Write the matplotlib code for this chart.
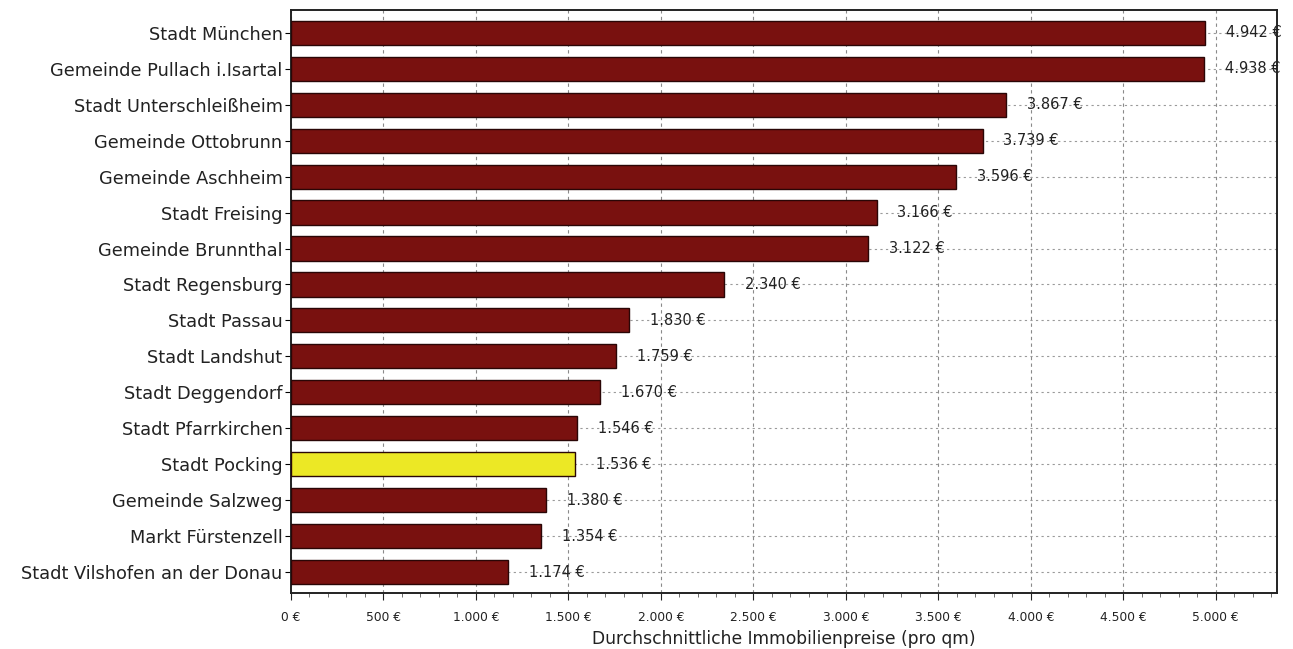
import matplotlib
matplotlib.use("Agg")
import matplotlib.pyplot as plt
from matplotlib.ticker import FuncFormatter, MultipleLocator

plt.rcParams.update({
    "font.family": "DejaVu Sans",
    "figure.facecolor": "white", "axes.facecolor": "white",
})

ORTE = ["Stadt München", "Gemeinde Pullach i.Isartal", "Stadt Unterschleißheim",
        "Gemeinde Ottobrunn", "Gemeinde Aschheim", "Stadt Freising",
        "Gemeinde Brunnthal", "Stadt Regensburg", "Stadt Passau",
        "Stadt Landshut", "Stadt Deggendorf", "Stadt Pfarrkirchen",
        "Stadt Pocking", "Gemeinde Salzweg", "Markt Fürstenzell",
        "Stadt Vilshofen an der Donau"]
PREISE = [4942, 4938, 3867, 3739, 3596, 3166, 3122, 2340, 1830,
          1759, 1670, 1546, 1536, 1380, 1354, 1174]
HERVORGEHOBEN = "Stadt Pocking"

ROT = "#79110f"; GELB = "#ece825"; RAND = "#2a0606"


def euro(v):
    return f"{v:,.0f} €".replace(",", ".")


fig = plt.figure(figsize=(12.93, 6.49), dpi=100)
ax = fig.add_axes([0.225, 0.0863, 0.7625, 0.8987])

y = list(range(len(ORTE)))
farben = [GELB if o == HERVORGEHOBEN else ROT for o in ORTE]
ax.barh(y, PREISE, height=0.67, color=farben, edgecolor=RAND,
        linewidth=1.0, zorder=3)

for yi, p in zip(y, PREISE):
    ax.annotate(euro(p), xy=(p, yi), xytext=(15, 0), textcoords="offset points",
                ha="left", va="center", fontsize=10.5, color="#222222",
                zorder=4)

ax.set_xlim(0, 5330)
ax.set_ylim(len(ORTE) - 0.42, -0.64)
ax.set_yticks(y)
ax.set_yticklabels(ORTE, fontsize=12.8, color="#222222")

ax.xaxis.set_major_locator(MultipleLocator(500))
ax.xaxis.set_minor_locator(MultipleLocator(100))
ax.xaxis.set_major_formatter(FuncFormatter(lambda v, _: euro(v)))
ax.tick_params(axis="x", which="major", labelsize=8.8, length=5,
               width=0.8, colors="#222222", pad=8)
ax.tick_params(axis="x", which="minor", length=3, width=0.6, colors="#555555")
ax.tick_params(axis="y", length=4, width=0.8, pad=2)

ax.grid(axis="x", which="major", linestyle=(0, (3, 3)), color="#8a8a8a",
        linewidth=0.8, zorder=1)
ax.grid(axis="y", linestyle=(0, (2, 3)), color="#9a9a9a",
        linewidth=0.8, zorder=1)

for s in ax.spines.values():
    s.set_linewidth(1.4)
    s.set_color("#222222")

ax.set_xlabel("Durchschnittliche Immobilienpreise (pro qm)", fontsize=12.3,
              color="#222222", labelpad=4)

fig.savefig("out.png", dpi=100, facecolor="white")
plt.close(fig)
